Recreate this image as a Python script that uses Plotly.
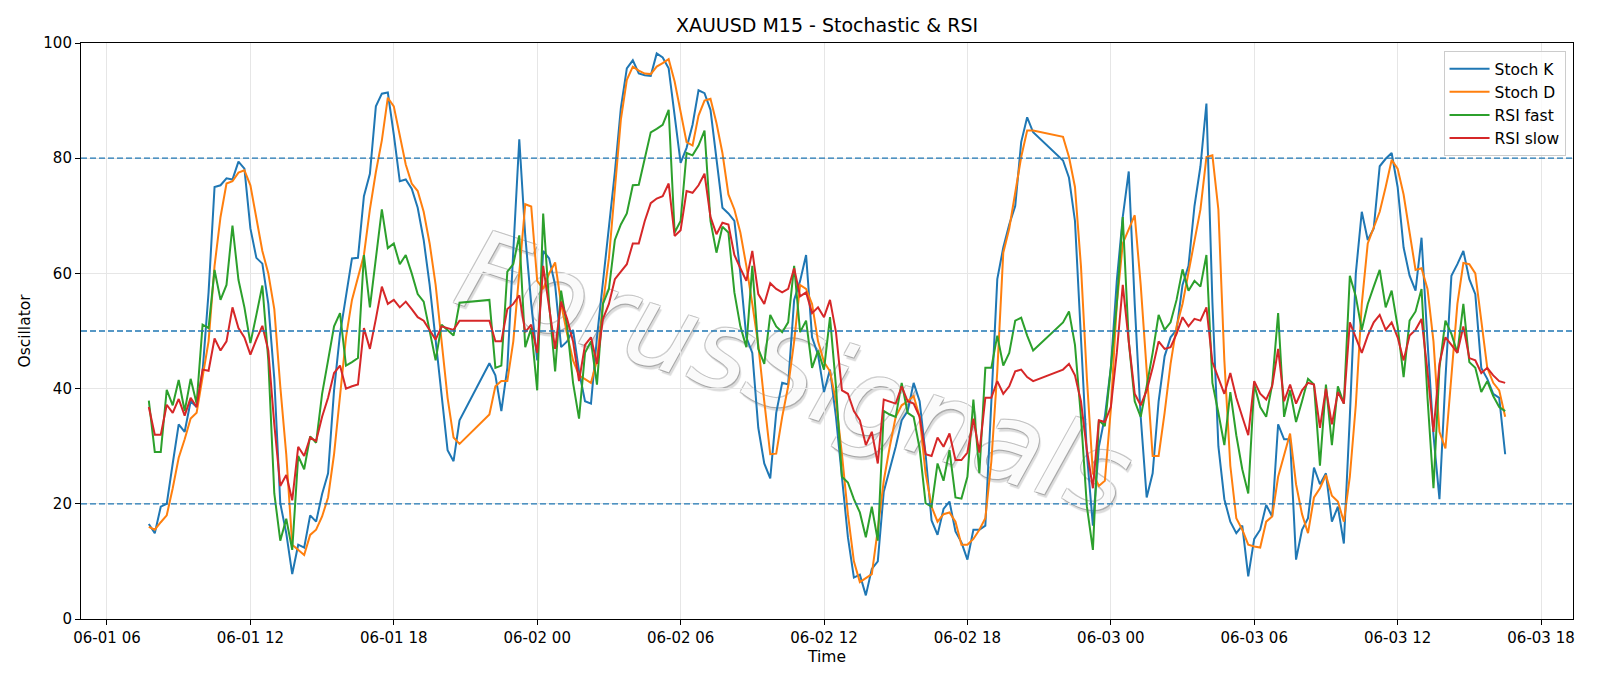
import pandas as pd
import plotly.graph_objects as go

# ---- data (M15 bars, None = missing bar) ----
start_time = "2025-06-01 07:45"
n_bars = 228

stoch_k = [
    16.5, 14.9, 19.5, 20, 27, 33.8, 32.5, 37.8, 36.8, 43,
    56.7, 75, 75.3, 76.5, 76.3, 79.4, 78.2, 67.8, 62.7, 61.7,
    54.7, 41.7, 20.1, 14.9, 7.8, 12.9, 12.4, 18, 16.9, 21.7,
    25.3, 39.7, 49.5, 56, 62.6, 62.7, 73.4, 77.3, 89, 91.2,
    91.4, 84.1, 76, 76.3, 74.7, 71.4, 65.8, 58, 48.2, 38.4,
    29.3, 27.4, 34.5, None, None, None, None, 44.4, 42.3, 36.1,
    43.6, 63.9, 83.3, 66.5, 54.7, 44.9, 63.9, 62.6, 58, 47.2,
    48.2, 50.2, 43, 37.8, 37.4, 48.9, 58.7, 68, 77.6, 88.7,
    95.6, 97, 94.7, 94.4, 94.3, 98.2, 97.5, 95.6, 87.4, 79.2,
    81.8, 85.8, 91.8, 91.3, 88.4, 80.2, 71.4, 70.4, 69.1, 60,
    48.9, 46.2, 33.2, 27, 24.4, 35.8, 41, 40.7, 55.4, 58.7,
    63.2, 48.9, 45.9, 39.4, 43.3, 35.1, 24.7, 14.2, 7.2, 7.7,
    4.1, 8.7, 10, 22.1, 26, 29.9, 34.5, 36.1, 41, 37.8,
    28.6, 17.1, 14.6, 19.1, 20.4, 15.2, 13.3, 10.3, 15.5, 15.5,
    16.2, 39, 59, 64.5, 68.5, 71.7, 82.8, 87.1, 84.5, None,
    None, None, None, 79.6, 76.6, 69.1, 48.2, 28.6, 16.2, 29.9,
    35.1, 43.6, 58.7, 69.8, 77.7, 54.7, 35.1, 21.1, 25.3, 37.8,
    45.6, 48.9, 50.2, 58, 61.3, 71.7, 78.6, 89.5, 55, 30,
    20.8, 16.9, 14.9, 16.2, 7.4, 13.9, 15.5, 19.8, 17.8, 33.8,
    31.2, 31.2, 10.3, 15.5, 17.5, 26.3, 23.4, 25.3, 16.9, 19.5,
    13.1, 35.1, 60, 70.7, 65.8, 67.8, 78.6, 79.9, 80.9, 75,
    64.5, 59.6, 57, 66.2, 48.2, 31.9, 20.8, 41.7, 59.6, 61.6,
    63.9, 59, 56.4, 43.6, 41.7, 39.1, 38.4, 28.6,
]

stoch_d = [
    16, 15.5, 16.8, 18, 22.7, 28, 31.2, 34.8, 35.8, 41.7,
    48.2, 61.3, 69.8, 75.6, 76, 77.5, 77.9, 75.3, 69.8, 63.9,
    60, 53.8, 40.4, 28.6, 12.9, 12, 11.1, 14.6, 15.5, 17.8,
    21.1, 28.6, 39.1, 48.9, 55.4, 59.3, 63.2, 71.1, 77.6, 83.1,
    90.5, 89, 84.1, 78.9, 75.6, 74.3, 70.7, 65.2, 58, 48.2,
    38.4, 31.5, 30.4, None, None, None, None, 35.5, 40.4, 41.3,
    41.3, 48.2, 60, 72, 71.6, 58.7, 57.3, 60, 61.9, 54.7,
    49.5, 44.9, 42.3, 41.7, 41, 44.9, 54.7, 62.6, 74.3, 86.7,
    93.6, 95.9, 95.2, 94.7, 94.6, 95.9, 96.5, 97.2, 93.3, 88,
    82.8, 82.2, 87.4, 90, 90.3, 86.1, 80.9, 73.7, 71.1, 67.1,
    61.3, 54.7, 47.6, 37.8, 28.6, 28.7, 35.1, 40.4, 48.2, 58,
    57.3, 54.7, 48.2, 44.6, 43, 37.8, 28.6, 18.2, 10, 6.4,
    7.1, 7.8, 15.5, 24, 29.9, 35.1, 37.1, 37.8, 38.7, 35.1,
    25.3, 19.5, 16.9, 18.2, 18.5, 16.9, 12.9, 12.9, 13.9, 15.5,
    17.5, 27.3, 43, 63.6, 67.8, 73.7, 80.2, 84.8, 84.8, None,
    None, None, None, 83.7, 80.2, 75, 61.3, 41.7, 25.3, 23.1,
    24, 36.4, 54.7, 65.2, 67.8, 70.1, 58, 43, 28.3, 28.3,
    35.8, 44.3, 50.8, 54.7, 60, 65.2, 71.1, 80.2, 80.5, 71.1,
    44.9, 26.6, 17.5, 15.5, 12.9, 12.6, 12.4, 16.9, 17.8, 24.7,
    28.6, 32.2, 23.4, 18.2, 14.9, 21.1, 22.7, 25, 21.4, 20.4,
    16.9, 24.7, 37.1, 54.7, 65.2, 67.8, 70.7, 75, 79.7, 78.2,
    73.7, 67.1, 60.6, 60.9, 57.3, 48.2, 32.5, 29.6, 41.7, 54.7,
    61.8, 61.6, 60, 51.5, 43.6, 41, 39.7, 35.1,
]

rsi_fast = [
    37.9, 29, 29, 39.8, 37.1, 41.5, 36.1, 41.7, 37.4, 51.1,
    50.5, 60.6, 55.4, 58, 68.3, 58.9, 54.1, 47.9, 52.8, 57.9,
    44.9, 21.8, 13.6, 17.4, 12, 28.3, 26, 31.7, 30.6, 39.1,
    44.9, 50.8, 53.1, 44, 44.6, 45.3, 63.2, 54.1, 62.6, 71.1,
    64.4, 65.2, 61.6, 63.2, 60, 56.4, 55.1, 50.2, 44.9, 51.1,
    50.2, 49.2, 54.9, None, None, None, None, 55.4, 43.6, 44,
    60.3, 61.6, 66.6, 47.2, 50.5, 39.7, 70.4, 54.7, 43, 57,
    50.8, 41, 34.8, 46.2, 48.2, 40.7, 54.7, 57.3, 65.8, 68.5,
    70.4, 75.3, 75.4, 80.2, 84.5, 85.1, 85.8, 88.4, 67.1, 69.1,
    80.9, 80.5, 82.2, 84.8, 69.1, 63.6, 68.1, 67.1, 56.7, 50.8,
    47.2, 61.3, 46.9, 44.3, 52.8, 50.8, 49.8, 51.5, 61.3, 49.8,
    51.8, 43.6, 46.6, 43.3, 52.4, 40.4, 24.7, 23.7, 20.8, 18.5,
    14.2, 19.5, 13.6, 36.1, 35.5, 35.1, 41, 35.8, 35.1, 29.6,
    20.1, 19.5, 27, 24, 29.3, 21.1, 20.9, 24.7, 38.1, 25.3,
    43.6, 43.6, 49.2, 44, 46.2, 51.8, 52.3, 49.2, 46.6, None,
    None, None, None, 51.5, 53.4, 47.6, 35.1, 19.5, 12, 34.5,
    33.5, 43.6, 54.7, 69.8, 48.2, 37.8, 35.1, 40.4, 46.2, 52.8,
    50.2, 51.5, 55.4, 60.7, 57, 58.7, 57.7, 63.2, 41, 35.8,
    30.2, 39.4, 31.9, 26, 21.8, 40.7, 36.8, 35.1, 40.7, 53.1,
    35.1, 39.7, 34.2, 37.8, 41.7, 40.7, 26.6, 40.7, 30.2, 40.4,
    37.4, 59.6, 56, 50.2, 54.7, 57.7, 60.6, 54.1, 57, 50.8,
    42, 51.8, 53.4, 57.3, 38.4, 22.7, 43.6, 51.8, 49.5, 46.2,
    54.7, 44.6, 43.6, 39.4, 41.3, 38.7, 36.8, 36.1,
]

rsi_slow = [
    36.8, 32, 32, 37.2, 35.8, 38.2, 35.3, 38.4, 36.8, 43.3,
    43.1, 48.7, 46.6, 48.2, 54.1, 50.5, 48.9, 45.9, 48.5, 50.9,
    46.6, 33.8, 23.1, 25, 20.6, 29.9, 28.3, 31.5, 30.9, 35.1,
    38.4, 42.7, 44, 40, 40.4, 40.7, 50.5, 46.9, 52.1, 57.7,
    54.7, 55.4, 54.1, 55.1, 53.8, 52.4, 51.8, 50.2, 48.5, 50.8,
    50.5, 50.2, 51.8, None, None, None, None, 51.8, 48.2, 48.2,
    53.8, 54.7, 56.2, 49.8, 51.1, 46.2, 61.3, 54.1, 46.9, 55.1,
    52.1, 48.2, 41.3, 47.6, 48.9, 44.3, 52.1, 54.7, 59, 60.3,
    61.6, 65.2, 65.2, 69.1, 72.2, 73, 73.4, 75.6, 66.5, 67.5,
    74.3, 74, 75.3, 77.3, 69.8, 66.8, 68.8, 68.5, 63.2, 60.9,
    58.7, 63.9, 56.4, 54.7, 58.3, 57.3, 56.7, 57.3, 60.9, 56,
    56.7, 53.1, 54.1, 52.4, 55.4, 49.8, 39.7, 39.1, 36.1, 34.5,
    30.2, 32.5, 27, 38.1, 37.8, 37.4, 40.4, 37.8, 37.4, 35.1,
    28.6, 28.3, 31.5, 29.9, 32.2, 27.6, 27.6, 28.9, 34.8, 28.9,
    38.4, 38.4, 41.3, 39.1, 40.4, 43, 43.3, 42, 41.3, None,
    None, None, None, 43.3, 44.3, 42.3, 37.8, 29.3, 22.7, 34.5,
    34.2, 36.8, 46.2, 58, 48.2, 39.1, 37.1, 39.7, 43.6, 48.2,
    46.9, 47.2, 49.5, 52.4, 50.8, 52.1, 51.8, 54.1, 44.6, 41.7,
    39.1, 42.7, 38.4, 35.1, 31.9, 41.3, 39.1, 38.1, 40.4, 46.9,
    37.8, 40.7, 37.4, 39.7, 41, 40.7, 33.2, 40, 33.8, 39.4,
    37.4, 51.5, 48.9, 46.2, 49.2, 51.5, 52.8, 50.2, 51.5, 48.9,
    44.9, 49.2, 50.2, 52.1, 43, 32.5, 44.3, 48.9, 47.6, 46.2,
    50.8, 45.3, 44.9, 42.7, 43.6, 42.3, 41.3, 41,
]

series_names = ["Stoch K", "Stoch D", "RSI fast", "RSI slow"]
series_colors = ["#1f77b4", "#ff7f0e", "#2ca02c", "#d62728"]
level_lines = [20, 50, 80]
y_ticks = [0, 20, 40, 60, 80, 100]

for s in (stoch_k, stoch_d, rsi_fast, rsi_slow):
    assert len(s) == n_bars, len(s)

times = pd.date_range(start_time, periods=n_bars, freq="15min")

fig = go.Figure()
for name, vals, col in zip(series_names, [stoch_k, stoch_d, rsi_fast, rsi_slow], series_colors):
    fig.add_trace(go.Scatter(x=times, y=vals, mode="lines", name=name,
                             line=dict(color=col, width=2), connectgaps=True))

for lv in level_lines:
    fig.add_shape(type="line", xref="paper", x0=0, x1=1, yref="y", y0=lv, y1=lv,
                  line=dict(color="#1f77b4", width=1.3, dash="6px,3px"), layer="above")

# watermark drawn below the data lines
fig.add_shape(
    type="rect", xref="paper", yref="paper", x0=0.28, x1=0.68, y0=0.30, y1=0.58,
    line=dict(width=0), fillcolor="rgba(0,0,0,0)", layer="below",
    label=dict(text="ForusSignals", textposition="middle center", textangle=18,
               font=dict(family="DejaVu Sans", size=110, style="italic",
                         color="rgba(255,255,255,0.95)",
                         shadow="1px 1px 0 rgba(150,150,150,0.7), -1px -1px 0 rgba(185,185,185,0.7), "
                                "1px -1px 0 rgba(185,185,185,0.7), -1px 1px 0 rgba(185,185,185,0.7), "
                                "3px 3px 1px rgba(0,0,0,0.15)")),
)

span = times[-1] - times[0]
x_range = [times[0] - span * 0.05, times[-1] + span * 0.05]

font_family = "DejaVu Sans"
tick_size = 15
label_size = 15.5
fig.update_layout(
    width=1600, height=686,
    margin=dict(l=81, r=27, t=43, b=67),
    paper_bgcolor="white", plot_bgcolor="white",
    font=dict(family=font_family, size=tick_size, color="black"),
    title=dict(text="XAUUSD M15 - Stochastic & RSI", x=0.5, xref="paper",
               y=1 - 25 / 686, yref="container", yanchor="middle",
               font=dict(size=19, family=font_family, color="black")),
    showlegend=True,
    legend=dict(x=0.995, y=0.986, xanchor="right", yanchor="top",
                bgcolor="rgba(255,255,255,0.8)", bordercolor="#cccccc", borderwidth=1,
                font=dict(size=label_size, family=font_family), tracegroupgap=0,
                itemwidth=40),
)
fig.update_xaxes(
    range=x_range, type="date", tickformat="%m-%d %H",
    tick0="2025-06-01 00:00", dtick=6 * 3600 * 1000,
    showgrid=True, gridcolor="#e6e6e6", gridwidth=1,
    showline=True, linecolor="black", linewidth=1.1, mirror=True,
    ticks="outside", ticklen=5, tickcolor="black", zeroline=False,
    tickfont=dict(size=tick_size, family=font_family),
    title=dict(text="Time", font=dict(size=label_size, family=font_family), standoff=5),
    automargin=False,
)
fig.update_yaxes(
    range=[0, 100], tickvals=y_ticks,
    showgrid=True, gridcolor="#e6e6e6", gridwidth=1,
    showline=True, linecolor="black", linewidth=1.1, mirror=True,
    ticks="outside", ticklen=5, tickcolor="black", zeroline=False,
    tickfont=dict(size=tick_size, family=font_family),
    title=dict(text="Oscillator", font=dict(size=label_size, family=font_family), standoff=8),
    automargin=False,
)

fig.write_html("out.html")
